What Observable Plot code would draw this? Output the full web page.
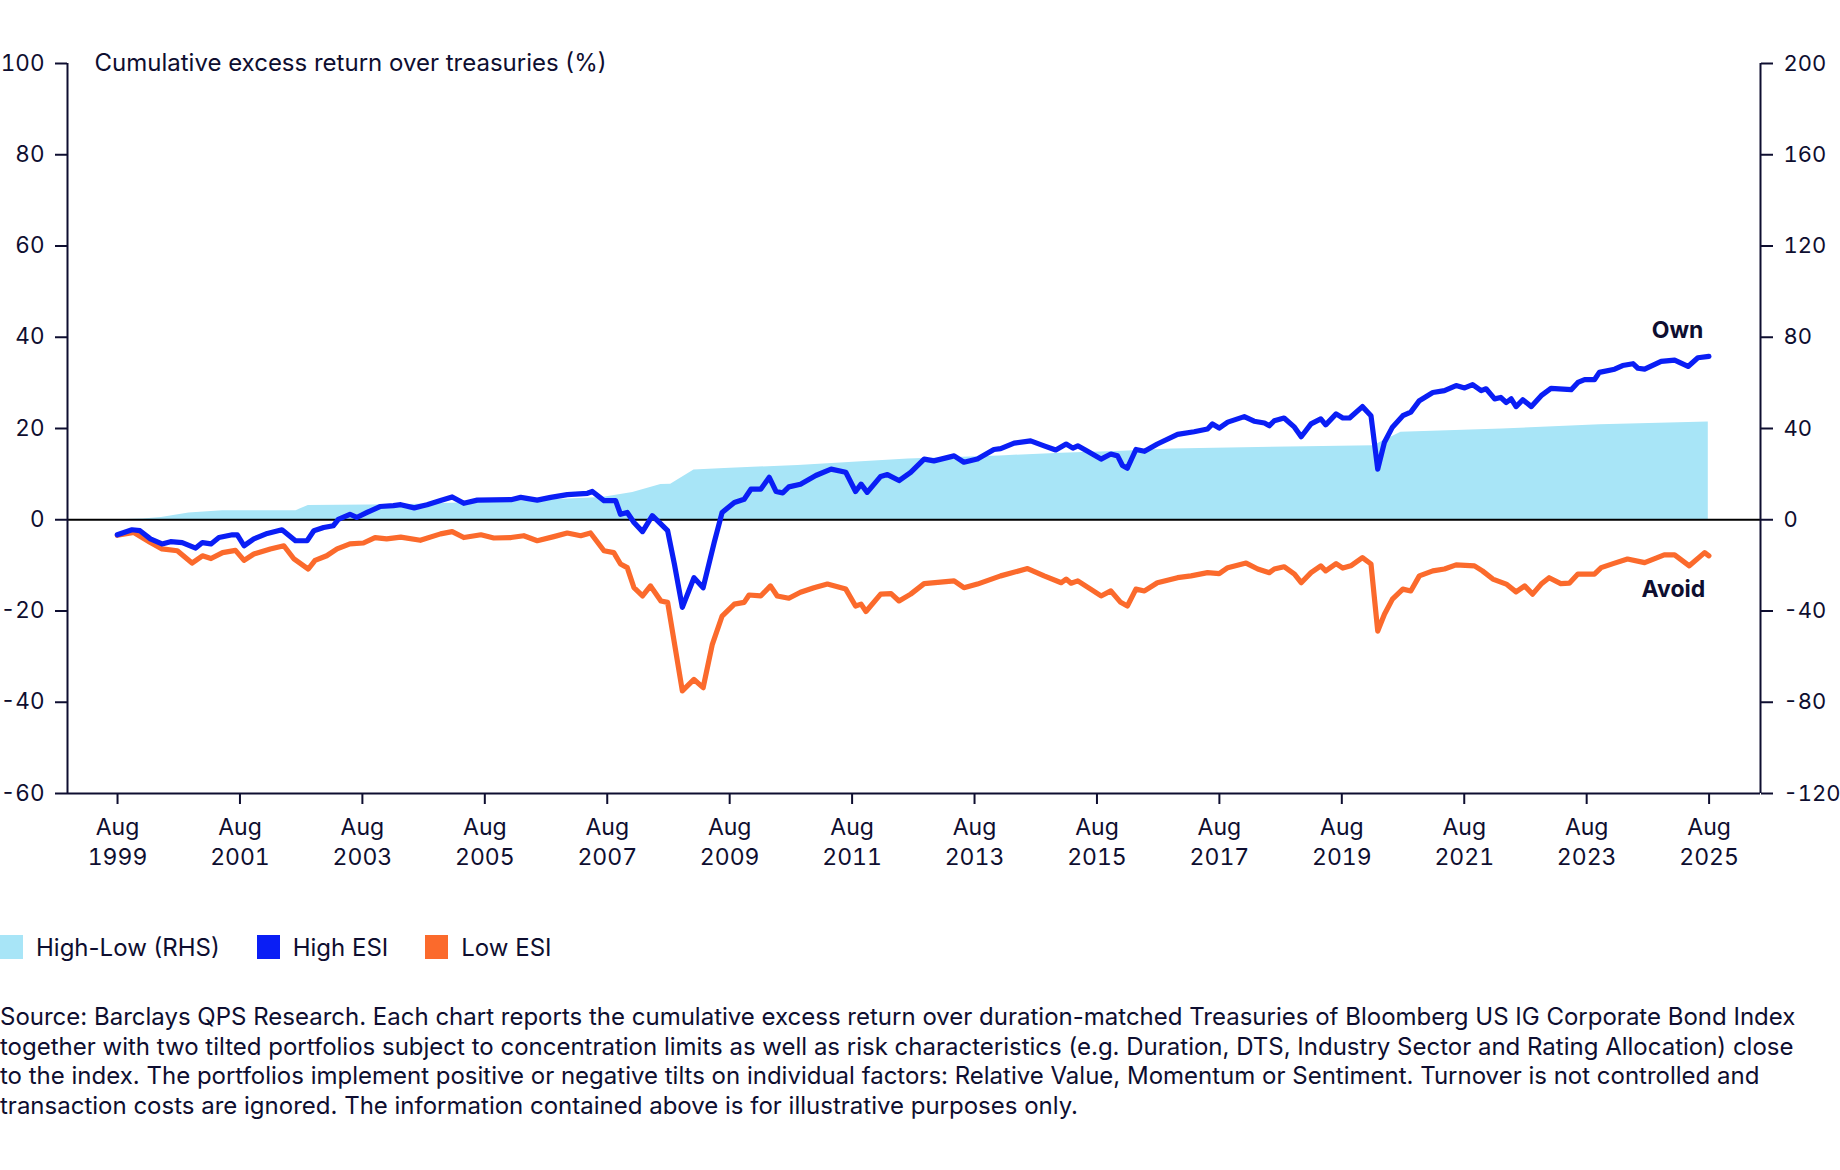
<!DOCTYPE html>
<html>
<head>
<meta charset="utf-8">
<script src="https://cdn.jsdelivr.net/npm/d3@7"></script>
<script src="https://cdn.jsdelivr.net/npm/@observablehq/plot@0.6"></script>
<style>
  html, body { margin: 0; padding: 0; background: #fff; }
  body { width: 1840px; height: 1170px; font-family: Inter, "Noto Sans", sans-serif; color: #0e0e30; }
  #chart svg { display: block; }
  .legend { display: flex; align-items: center; margin-top: 55px; height: 24px; font-size: 24px; }
  .legend .item { display: flex; align-items: center; margin-right: 37px; }
  .legend .sw { width: 23px; height: 24px; margin-right: 13px; }
  .source { margin-top: 43px; font-size: 24px; line-height: 29.6px; }
  .source div { white-space: nowrap; }
</style>
</head>
<body>
<div id="chart"></div>
<div class="legend" id="legend"></div>
<div class="source" id="source"></div>
<script>
// ---- data (decimal years; values in %) ----
const highDates = [1999.58,1999.82,1999.95,2000.12,2000.31,2000.45,2000.64,2000.86,2000.97,2001.11,2001.24,2001.46,2001.54,2001.65,2001.81,2002.03,2002.27,2002.49,2002.68,2002.79,2002.95,2003.11,2003.19,2003.38,2003.49,2003.66,2003.87,2004.09,2004.21,2004.43,2004.64,2004.86,2005.05,2005.24,2005.46,2006.01,2006.17,2006.44,2006.66,2006.93,2007.26,2007.34,2007.53,2007.72,2007.80,2007.91,2008.02,2008.16,2008.32,2008.57,2008.68,2008.81,2009.00,2009.15,2009.33,2009.46,2009.66,2009.82,2009.93,2010.09,2010.23,2010.34,2010.45,2010.55,2010.74,2010.99,2011.24,2011.48,2011.64,2011.73,2011.83,2012.05,2012.16,2012.35,2012.54,2012.76,2012.92,2013.25,2013.41,2013.63,2013.90,2014.01,2014.23,2014.50,2014.72,2014.91,2015.08,2015.19,2015.27,2015.43,2015.65,2015.81,2015.92,2016.00,2016.08,2016.22,2016.36,2016.57,2016.90,2017.17,2017.39,2017.47,2017.58,2017.72,2017.99,2018.15,2018.32,2018.40,2018.48,2018.64,2018.81,2018.92,2019.08,2019.24,2019.32,2019.49,2019.60,2019.71,2019.92,2020.06,2020.17,2020.28,2020.41,2020.58,2020.71,2020.85,2021.07,2021.26,2021.45,2021.59,2021.72,2021.86,2021.94,2022.08,2022.18,2022.27,2022.35,2022.43,2022.54,2022.68,2022.84,2023.00,2023.33,2023.44,2023.55,2023.71,2023.79,2024.04,2024.17,2024.34,2024.42,2024.53,2024.80,2025.02,2025.24,2025.40,2025.58];
const highValues = [-3.3,-2.2,-2.4,-4.2,-5.3,-4.8,-5.0,-6.2,-5.0,-5.3,-3.9,-3.3,-3.3,-5.7,-4.2,-3.0,-2.2,-4.6,-4.6,-2.4,-1.7,-1.3,0.1,1.2,0.5,1.6,2.9,3.1,3.3,2.6,3.3,4.2,5.0,3.6,4.3,4.4,4.9,4.3,4.9,5.5,5.8,6.2,4.2,4.2,1.2,1.6,-0.6,-2.6,0.9,-2.4,-9.7,-19.2,-12.7,-14.9,-5.0,1.6,3.8,4.5,6.7,6.7,9.3,6.2,5.9,7.2,7.8,9.7,11.1,10.4,6.2,7.8,6.0,9.5,9.9,8.6,10.4,13.3,12.9,14.0,12.6,13.3,15.4,15.6,16.8,17.3,16.2,15.3,16.6,15.7,16.2,15.0,13.3,14.4,14.0,11.9,11.3,15.4,15.0,16.6,18.7,19.3,19.9,21.0,20.1,21.4,22.6,21.6,21.2,20.6,21.7,22.3,20.3,18.2,21.0,22.1,20.8,23.2,22.3,22.3,24.8,22.8,11.1,17.0,20.3,22.8,23.6,26.1,27.9,28.3,29.4,28.9,29.6,28.3,28.7,26.5,26.8,25.7,26.5,24.8,26.3,24.8,27.2,28.8,28.5,30.1,30.7,30.7,32.3,33.0,33.8,34.2,33.2,33.0,34.7,35.0,33.6,35.5,35.8];

const lowDates = [1999.58,1999.85,2000.12,2000.31,2000.56,2000.80,2000.97,2001.11,2001.30,2001.51,2001.65,2001.81,2002.08,2002.30,2002.46,2002.70,2002.81,2003.00,2003.17,2003.38,2003.60,2003.79,2003.98,2004.21,2004.53,2004.86,2005.05,2005.24,2005.52,2005.73,2006.01,2006.22,2006.44,2006.71,2006.93,2007.15,2007.31,2007.53,2007.69,2007.80,2007.91,2008.02,2008.16,2008.29,2008.46,2008.57,2008.81,2009.00,2009.15,2009.30,2009.46,2009.66,2009.82,2009.90,2010.09,2010.25,2010.36,2010.55,2010.74,2010.96,2011.18,2011.48,2011.64,2011.73,2011.81,2012.05,2012.22,2012.35,2012.54,2012.76,2013.25,2013.41,2013.63,2014.01,2014.45,2014.72,2015.00,2015.08,2015.16,2015.27,2015.48,2015.65,2015.81,2015.97,2016.08,2016.22,2016.36,2016.57,2016.90,2017.12,2017.39,2017.58,2017.72,2018.02,2018.21,2018.40,2018.48,2018.64,2018.81,2018.92,2019.08,2019.24,2019.32,2019.49,2019.60,2019.73,2019.92,2020.06,2020.17,2020.28,2020.41,2020.58,2020.71,2020.85,2021.07,2021.26,2021.45,2021.75,2021.88,2022.05,2022.27,2022.43,2022.57,2022.70,2022.84,2022.97,2023.16,2023.30,2023.44,2023.71,2023.82,2024.04,2024.25,2024.53,2024.85,2025.02,2025.26,2025.51,2025.58];
const lowValues = [-3.4,-2.8,-5.0,-6.4,-6.8,-9.5,-7.9,-8.5,-7.2,-6.7,-8.9,-7.5,-6.4,-5.7,-8.5,-10.8,-8.9,-7.9,-6.4,-5.3,-5.1,-3.9,-4.2,-3.8,-4.5,-3.1,-2.6,-3.9,-3.3,-4.0,-3.9,-3.5,-4.6,-3.7,-2.9,-3.5,-2.9,-6.8,-7.2,-9.7,-10.5,-14.9,-16.7,-14.5,-17.8,-18.1,-37.5,-35.0,-36.8,-27.3,-21.1,-18.5,-18.1,-16.5,-16.7,-14.5,-16.7,-17.2,-15.9,-14.9,-14.1,-15.2,-18.9,-18.5,-20.1,-16.3,-16.2,-17.8,-16.3,-14.0,-13.4,-14.9,-14.1,-12.3,-10.7,-12.3,-13.8,-13.0,-13.9,-13.4,-15.2,-16.7,-15.6,-18.1,-18.9,-15.2,-15.6,-13.8,-12.7,-12.3,-11.6,-11.8,-10.5,-9.5,-10.8,-11.6,-10.8,-10.3,-11.9,-13.8,-11.6,-10.1,-11.2,-9.6,-10.6,-10.1,-8.3,-9.7,-24.4,-20.7,-17.4,-15.2,-15.6,-12.3,-11.2,-10.8,-9.9,-10.1,-11.2,-13.0,-14.1,-15.8,-14.5,-16.3,-14.1,-12.7,-14.0,-13.9,-11.9,-11.9,-10.5,-9.5,-8.6,-9.4,-7.7,-7.7,-10.1,-7.2,-7.9];

// High-Low spread, right-hand scale (%)
const spreadDates = [1999.58,2000.0,2000.3,2000.75,2001.3,2002.5,2002.7,2004.2,2006.0,2007.5,2008.0,2008.46,2008.62,2009.0,2009.5,2010.7,2012.5,2014.0,2015.0,2016.0,2016.8,2019.0,2020.1,2020.55,2022.2,2023.8,2025.57];
const spreadValues = [0,0.3,1.0,3.0,4.0,4.0,6.2,6.6,8.0,9.8,12.0,15.4,15.6,21.8,22.5,23.8,26.6,28.0,29.2,30.0,31.0,32.0,32.4,38.4,39.8,41.6,42.8];

const leftTicks = [-60,-40,-20,0,20,40,60,80,100];
const tickYears = [1999,2001,2003,2005,2007,2009,2011,2013,2015,2017,2019,2021,2023,2025];
const tickLabels = tickYears.map(y => "Aug\n" + y);

const seriesNames = ["High-Low (RHS)", "High ESI", "Low ESI"];
const seriesColors = ["#a8e5f7", "#0a1ef5", "#fb6a2c"];
const titleText = "Cumulative excess return over treasuries (%)";
const endLabels = [{text: "Own", t: 2025.49, v: 41.5}, {text: "Avoid", t: 2025.52, v: -15.4}];
const sourceLines = [
  "Source: Barclays QPS Research. Each chart reports the cumulative excess return over duration-matched Treasuries of Bloomberg US IG Corporate Bond Index",
  "together with two tilted portfolios subject to concentration limits as well as risk characteristics (e.g. Duration, DTS, Industry Sector and Rating Allocation) close",
  "to the index. The portfolios implement positive or negative tilts on individual factors: Relative Value, Momentum or Sentiment. Turnover is not controlled and",
  "transaction costs are ignored. The information contained above is for illustrative purposes only."
];

// ---- build ----
const high = highDates.map((t, i) => ({t, v: highValues[i]}));
const low = lowDates.map((t, i) => ({t, v: lowValues[i]}));
const spread = spreadDates.map((t, i) => ({t, v: spreadValues[i]}));
const xMin = 1998.766, xMax = 2026.423;
const ink = "#0e0e30";
const augTicks = tickYears.map(y => y + 7/12);

const chart = Plot.plot({
  width: 1840,
  height: 880,
  marginLeft: 67,
  marginRight: 80,
  marginTop: 63,
  marginBottom: 87,
  x: {type: "linear", domain: [xMin, xMax], axis: null},
  y: {domain: [-60, 100], axis: null},
  style: {fontFamily: "Inter, 'Noto Sans', sans-serif", fontSize: "23px", color: ink, background: "#fff"},
  marks: [
    Plot.areaY(spread, {x: "t", y: d => d.v / 2, fill: seriesColors[0]}),
    Plot.ruleY([0], {stroke: "#000", strokeWidth: 2}),
    Plot.lineY(low, {x: "t", y: "v", stroke: seriesColors[2], strokeWidth: 5.2, strokeLinejoin: "round"}),
    Plot.lineY(high, {x: "t", y: "v", stroke: seriesColors[1], strokeWidth: 5.2, strokeLinejoin: "round"}),
    Plot.ruleX([xMin], {y1: -60, y2: 100, stroke: ink, strokeWidth: 2}),
    Plot.ruleX([xMax], {y1: -60, y2: 100, stroke: ink, strokeWidth: 2}),
    Plot.ruleY([-60], {stroke: ink, strokeWidth: 2}),
    Plot.axisY({anchor: "left", ticks: leftTicks, tickFormat: d => String(d), tickSize: 12, tickPadding: 11, stroke: ink, strokeWidth: 2, fill: ink, fontSize: 22.5, label: null}),
    Plot.axisY({anchor: "right", ticks: leftTicks, tickFormat: d => String(d * 2), tickSize: 12, tickPadding: 11, stroke: ink, strokeWidth: 2, fill: ink, fontSize: 22, label: null}),
    Plot.axisX({anchor: "bottom", ticks: augTicks, tickFormat: (d, i) => tickLabels[i], tickSize: 11, tickPadding: 9, stroke: ink, strokeWidth: 2, fill: ink, fontSize: 23, lineHeight: 1.3, label: null}),
    Plot.text([titleText], {x: xMin, y: 100, text: d => d, dx: 27, textAnchor: "start", fill: ink, fontSize: 24}),
    Plot.text(endLabels, {x: "t", y: "v", text: "text", textAnchor: "end", fill: ink, fontSize: 23, fontWeight: 700})
  ]
});
document.getElementById("chart").append(chart);

const legend = document.getElementById("legend");
seriesNames.forEach((name, i) => {
  const item = document.createElement("div");
  item.className = "item";
  item.innerHTML = `<span class="sw" style="background:${seriesColors[i]}"></span><span>${name}</span>`;
  legend.append(item);
});
const src = document.getElementById("source");
sourceLines.forEach(l => { const d = document.createElement("div"); d.textContent = l; src.append(d); });
</script>
</body>
</html>
